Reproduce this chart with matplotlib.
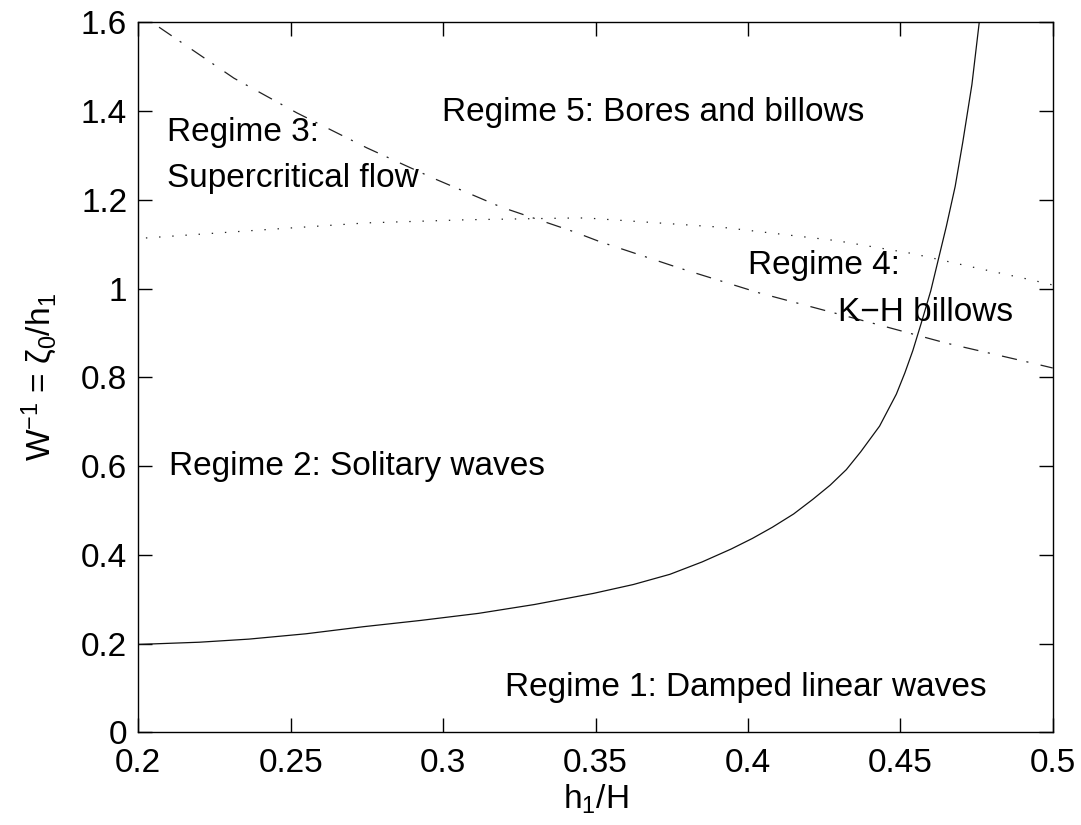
import matplotlib
matplotlib.use('Agg')
import matplotlib.pyplot as plt

plt.rcParams['font.family'] = ['Liberation Sans', 'DejaVu Sans']
plt.rcParams['mathtext.fontset'] = 'custom'
plt.rcParams['mathtext.rm'] = 'Liberation Sans'
plt.rcParams['mathtext.it'] = 'Liberation Sans'
plt.rcParams['lines.scale_dashes'] = False

# solid curve (boundary between regime 1 and the rest)
solid_x = [0.200, 0.220, 0.2363, 0.255, 0.2739, 0.2925, 0.3116, 0.330, 0.3493,
           0.3624, 0.3744, 0.3850, 0.3945, 0.4015, 0.4080, 0.4150, 0.4213,
           0.4270, 0.4323, 0.4370, 0.4432, 0.4487, 0.4515, 0.4541, 0.4570,
           0.4600, 0.4651, 0.4680, 0.4705, 0.4735, 0.4759]
solid_y = [0.198, 0.203, 0.210, 0.222, 0.238, 0.252, 0.268, 0.288, 0.313,
           0.333, 0.356, 0.384, 0.413, 0.437, 0.462, 0.492, 0.525,
           0.557, 0.592, 0.632, 0.690, 0.762, 0.810, 0.860, 0.925,
           0.995, 1.140, 1.230, 1.330, 1.460, 1.600]

# dash-dot curve
dashdot_x = [0.2068, 0.2314, 0.2520, 0.2750, 0.2970, 0.3189, 0.3429, 0.3513,
             0.3776, 0.4038, 0.4409, 0.4651, 0.4933, 0.500]
dashdot_y = [1.589, 1.474, 1.396, 1.317, 1.248, 1.184, 1.128, 1.106,
             1.046, 0.990, 0.922, 0.877, 0.832, 0.821]

# dotted curve
dotted_x = [0.2025, 0.2402, 0.2750, 0.3078, 0.3429, 0.3470, 0.3916, 0.4290,
            0.4539, 0.4759, 0.4933, 0.500]
dotted_y = [1.114, 1.132, 1.148, 1.155, 1.159, 1.159, 1.138, 1.108,
            1.079, 1.045, 1.019, 1.008]

fig = plt.figure(figsize=(10.81, 8.25), dpi=100)
ax = fig.add_axes([138.3 / 1081, 1 - 732.3 / 825, 914.4 / 1081, 710 / 825])

ax.plot(solid_x, solid_y, color='#111111', lw=0.9)
ax.plot(dashdot_x, dashdot_y, color='#222222', lw=0.9, dashes=(11, 7, 1.5, 9))
ax.plot(dotted_x, dotted_y, color='#222222', lw=0.9, dashes=(1, 8.5))

ax.set_xlim(0.2, 0.5)
ax.set_ylim(0, 1.6)
ax.set_xticks([0.2, 0.25, 0.3, 0.35, 0.4, 0.45, 0.5])
ax.set_xticklabels(['0.2', '0.25', '0.3', '0.35', '0.4', '0.45', '0.5'])
ax.set_yticks([0, 0.2, 0.4, 0.6, 0.8, 1.0, 1.2, 1.4, 1.6])
ax.set_yticklabels(['0', '0.2', '0.4', '0.6', '0.8', '1', '1.2', '1.4', '1.6'])
ax.tick_params(direction='in', length=10, width=1, top=True, right=True,
               labelsize=24)
ax.tick_params(axis='x', pad=11)
ax.tick_params(axis='y', pad=8)
for s in ax.spines.values():
    s.set_linewidth(1)

ax.set_xlabel(r'h$_1$/H', fontsize=24, labelpad=3)
ax.set_ylabel(r'W$^{-1}$ = $\zeta_0$/h$_1$', fontsize=24, labelpad=16)

fs = 24
ax.text(0.2996, 1.396, 'Regime 5: Bores and billows', fontsize=fs, va='center')
ax.text(0.2094, 1.351, 'Regime 3:', fontsize=fs, va='center')
ax.text(0.2094, 1.249, 'Supercritical flow', fontsize=fs, va='center')
ax.text(0.3999, 1.053, 'Regime 4:', fontsize=fs, va='center')
ax.text(0.4294, 0.947, 'K\u2212H billows', fontsize=fs, va='center')
ax.text(0.2101, 0.598, 'Regime 2: Solitary waves', fontsize=fs, va='center')
ax.text(0.4783, 0.100, 'Regime 1: Damped linear waves', fontsize=fs,
        va='center', ha='right')

fig.savefig('out.png', dpi=100)
